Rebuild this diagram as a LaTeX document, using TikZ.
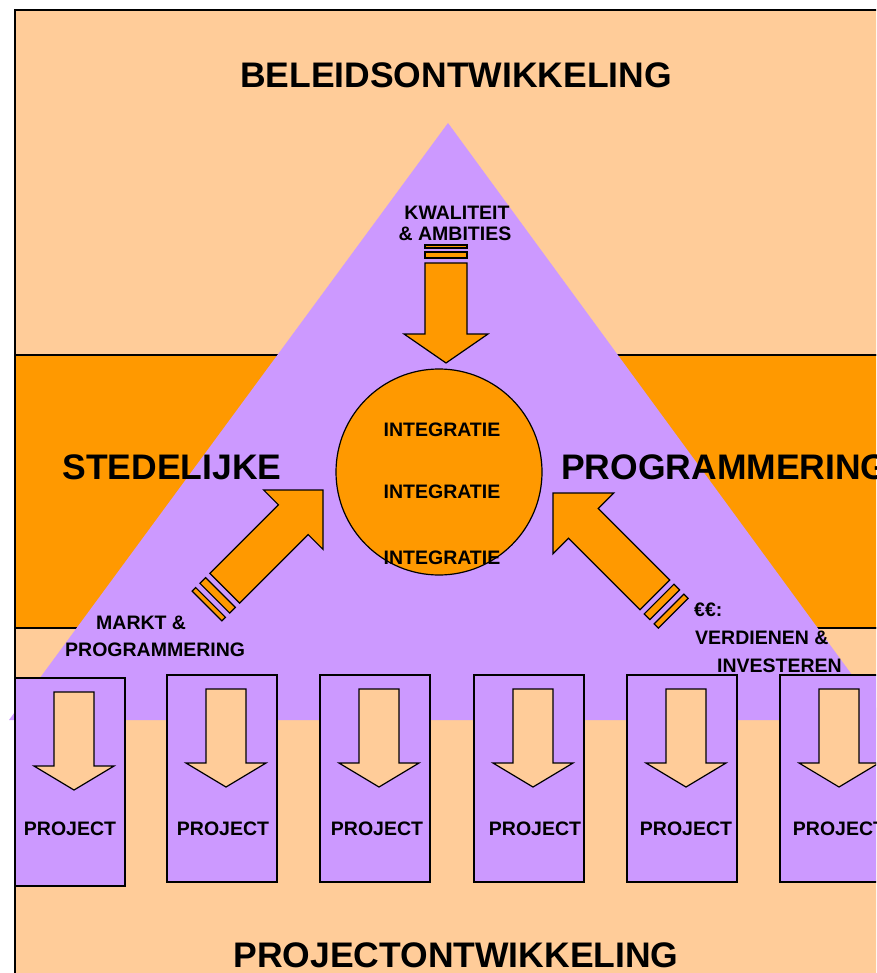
\documentclass[tikz,border=0pt]{standalone}
\usepackage{fontspec}
\setmainfont{Liberation Sans}
\definecolor{peach}{HTML}{FFCC99}
\definecolor{orng}{HTML}{FF9900}
\definecolor{purp}{HTML}{CC99FF}
\begin{document}
\begin{tikzpicture}[x=1pt,y=-1pt,
  outl/.style={draw=black,line width=1.2pt,line join=miter},
  bigtxt/.style={inner sep=0pt,font=\fontsize{35.5}{40}\selectfont\bfseries},
  smalltxt/.style={inner sep=0pt,font=\fontsize{19.5}{22}\selectfont\bfseries},
  projbox/.style={outl,fill=purp},
  projarrow/.style={outl,fill=peach},
  mainarrow/.style={outl,fill=orng}]
\useasboundingbox (0,0) rectangle (876,973);
\clip (0,0) rectangle (876,973);
% background bands
\path[outl,fill=peach] (15,10) rectangle (900,355);
\path[outl,fill=orng] (15,355) rectangle (900,628);
\path[outl,fill=peach] (15,628) rectangle (900,1000);
% triangle
\fill[purp] (448,123) -- (885,720) -- (9,720) -- cycle;
% titles
\node[bigtxt] (beleid) at (456,75) {BELEIDSONTWIKKELING};
\node[bigtxt] (sted) at (172,467) {STEDELIJKE};
\node[bigtxt,anchor=west] (progr) at (561,467) {PROGRAMMERING};
\node[bigtxt] (projontw) at (456,955) {PROJECTONTWIKKELING};
% circle
\node[outl,fill=orng,circle,minimum size=206pt,inner sep=0pt] (circ) at (439,472) {};
\node[smalltxt] (int1) at (442,430) {INTEGRATIE};
\node[smalltxt] (int2) at (442,492) {INTEGRATIE};
\node[smalltxt] (int3) at (442,557.5) {INTEGRATIE};
% top arrow
\begin{scope}[shift={(446,363)},rotate=-90]
  \path[mainarrow] (0,0) -- (-29,42) -- (-29,21) -- (-100,21) -- (-100,-21) -- (-29,-21) -- (-29,-42) -- cycle;
  \path[mainarrow] (-105,-21) rectangle (-111,21);
  \path[mainarrow] (-115,-21) rectangle (-118,21);
\end{scope}
% left arrow
\begin{scope}[shift={(323,490)},rotate=45]
  \path[mainarrow] (0,0) -- (-42,42) -- (-42,21) -- (-139,21) -- (-139,-21) -- (-42,-21) -- (-42,-42) -- cycle;
  \path[mainarrow] (-145,-21) rectangle (-153,21);
  \path[mainarrow] (-159,-21) rectangle (-164,21);
\end{scope}
% right arrow
\begin{scope}[shift={(553,493)},rotate=135]
  \path[mainarrow] (0,0) -- (-43,43) -- (-43,21) -- (-144,21) -- (-144,-21) -- (-43,-21) -- (-43,-43) -- cycle;
  \path[mainarrow] (-150,-21) rectangle (-158,21);
  \path[mainarrow] (-164,-21) rectangle (-170,21);
\end{scope}
% labels
\node[smalltxt] (kwal) at (457,213) {KWALITEIT};
\node[smalltxt] (amb) at (455,234) {\& AMBITIES};
\node[smalltxt,anchor=west] (markt) at (96,623) {MARKT \&};
\node[smalltxt,anchor=west] (markt2) at (65,650) {PROGRAMMERING};
\node[smalltxt,anchor=west] (euro) at (694,610) {€€:};
\node[smalltxt,anchor=west] (verd) at (695,638) {VERDIENEN \&};
\node[smalltxt,anchor=west] (inv) at (717,666) {INVESTEREN};
% project boxes
\foreach \i/\bx/\by/\bb/\tx in {1/15/678/886/70, 2/167/675/882/223, 3/320/675/882/377, 4/474/675/882/535, 5/627/675/882/686, 6/780/675/882/839}{
  \path[projbox] (\bx,\by) rectangle ({\bx+110},\bb);
  \begin{scope}[shift={({\bx+59},{\by+112})},rotate=-90]
    \path[projarrow] (0,0) -- (-24,40) -- (-24,20) -- (-98,20) -- (-98,-20) -- (-24,-20) -- (-24,-40) -- cycle;
  \end{scope}
  \node[smalltxt] (proj\i) at (\tx,829) {PROJECT};
}
\end{tikzpicture}
\end{document}
